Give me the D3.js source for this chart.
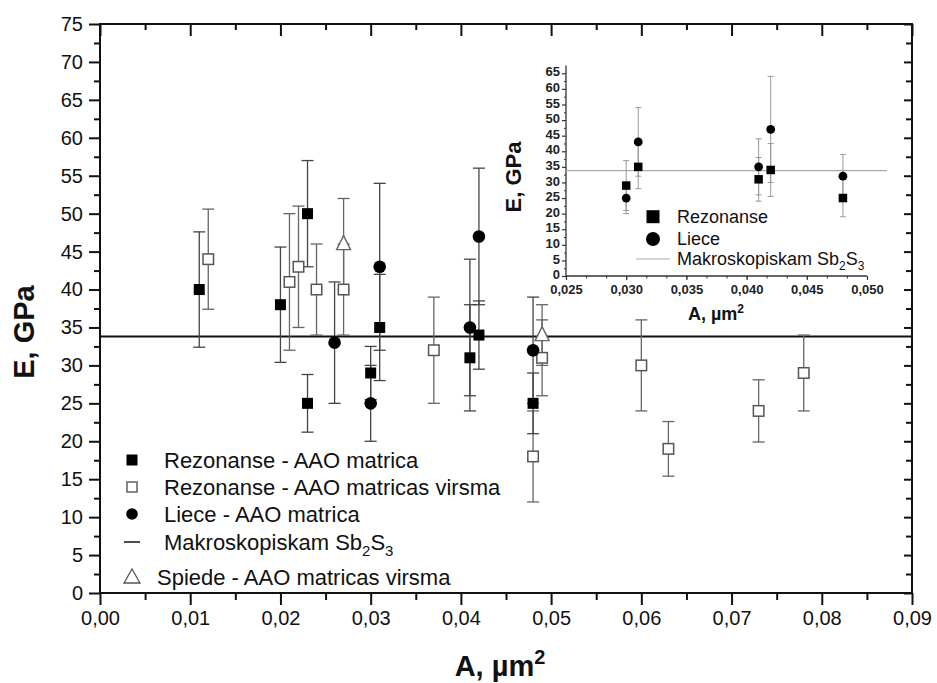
<!DOCTYPE html>
<html><head><meta charset="utf-8">
<script src="https://cdn.jsdelivr.net/npm/d3@7"></script>
<style>body{margin:0;background:#fff}svg{display:block}text{font-family:"Liberation Sans",Arial,sans-serif}</style>
</head><body>
<script>
// ---------- data (main chart) ----------
const rezMatX   = [0.011, 0.020, 0.023, 0.023, 0.030, 0.031, 0.041, 0.042, 0.048];
const rezMatY   = [40, 38, 50, 25, 29, 35, 31, 34, 25];
const rezMatErr = [7.6, 7.6, 7, 3.8, 3.5, 7, 7, 4.5, 4];

const rezSurfX   = [0.012, 0.021, 0.022, 0.024, 0.027, 0.037, 0.048, 0.049, 0.060, 0.063, 0.073, 0.078];
const rezSurfY   = [44, 41, 43, 40, 40, 32, 18, 31, 30, 19, 24, 29];
const rezSurfErr = [6.6, 9, 8, 6, 6, 7, 6, 5, 6, 3.6, 4.1, 5];

const lieX   = [0.026, 0.030, 0.031, 0.041, 0.042, 0.048];
const lieY   = [33, 25, 43, 35, 47, 32];
const lieErr = [8, 5, 11, 9, 9, 7];

const spiX   = [0.027, 0.049];
const spiY   = [46, 34];
const spiErr = [6, 4];

const macroE = 33.8;

const xTicks = [0, 0.01, 0.02, 0.03, 0.04, 0.05, 0.06, 0.07, 0.08, 0.09];
const yTicks = [0, 5, 10, 15, 20, 25, 30, 35, 40, 45, 50, 55, 60, 65, 70, 75];

// ---------- data (inset) ----------
const inRezX   = [0.030, 0.031, 0.041, 0.042, 0.048];
const inRezY   = [29, 35, 31, 34, 25];
const inRezErr = [8, 7, 7, 8.5, 6];
const inLieX   = [0.030, 0.031, 0.041, 0.042, 0.048];
const inLieY   = [25, 43, 35, 47, 32];
const inLieErr = [5, 11, 9, 17, 7];
const inXTicks = [0.025, 0.030, 0.035, 0.040, 0.045, 0.050];
const inYTicks = [0, 5, 10, 15, 20, 25, 30, 35, 40, 45, 50, 55, 60, 65];

const W = 937, H = 683;
const svg = d3.select("body").append("svg").attr("width", W).attr("height", H);

const x = d3.scaleLinear().domain([0, 0.09]).range([100, 912]);
const y = d3.scaleLinear().domain([0, 75]).range([593, 24]);
const comma = f => v => d3.format(f)(v).replace(".", ",");

// minor ticks
const xMinor = d3.range(0.005, 0.09, 0.01);
const yMinor = d3.range(2.5, 75, 5);

function styleAxis(g, w) {
  g.select(".domain").remove();
  g.selectAll(".tick line").attr("stroke", "#111").attr("stroke-width", w);
}

// bottom
svg.append("g").attr("transform", "translate(0,593)")
  .call(d3.axisBottom(x).tickValues(xTicks).tickSize(12).tickPadding(6).tickFormat(comma(".2f")))
  .call(g => { styleAxis(g, 2); g.selectAll("text").attr("font-size", 20).attr("fill", "#111"); });
svg.append("g").attr("transform", "translate(0,593)")
  .call(d3.axisBottom(x).tickValues(xMinor).tickSize(7).tickFormat(""))
  .call(g => styleAxis(g, 2));
// top
svg.append("g").attr("transform", "translate(0,24)")
  .call(d3.axisTop(x).tickValues(xTicks).tickSize(-12).tickFormat(""))
  .call(g => styleAxis(g, 2));
svg.append("g").attr("transform", "translate(0,24)")
  .call(d3.axisTop(x).tickValues(xMinor).tickSize(-6).tickFormat(""))
  .call(g => styleAxis(g, 2));
// left
svg.append("g").attr("transform", "translate(100,0)")
  .call(d3.axisLeft(y).tickValues(yTicks).tickSize(11).tickPadding(6).tickFormat(d3.format("d")))
  .call(g => { styleAxis(g, 2); g.selectAll("text").attr("font-size", 20).attr("fill", "#111"); });
svg.append("g").attr("transform", "translate(100,0)")
  .call(d3.axisLeft(y).tickValues(yMinor).tickSize(6).tickFormat(""))
  .call(g => styleAxis(g, 2));
// right
svg.append("g").attr("transform", "translate(912,0)")
  .call(d3.axisRight(y).tickValues(yTicks).tickSize(-8).tickFormat(""))
  .call(g => styleAxis(g, 2));
svg.append("g").attr("transform", "translate(912,0)")
  .call(d3.axisRight(y).tickValues(yMinor).tickSize(-6).tickFormat(""))
  .call(g => styleAxis(g, 2));

// frame
svg.append("rect").attr("x", x(0)).attr("y", y(75))
  .attr("width", x(0.09) - x(0)).attr("height", y(0) - y(75))
  .attr("fill", "none").attr("stroke", "#111").attr("stroke-width", 2);

// axis titles
svg.append("text").attr("transform", "translate(34,332) rotate(-90)")
  .attr("text-anchor", "middle").attr("font-size", 29).attr("font-weight", "bold").attr("fill", "#111")
  .text("E, GPa");
const xt = svg.append("text").attr("x", 500).attr("y", 676).attr("text-anchor", "middle")
  .attr("font-size", 29).attr("font-weight", "bold").attr("fill", "#111");
xt.append("tspan").text("A, \u00b5m");
xt.append("tspan").attr("font-size", 20).attr("dy", -12).text("2");

// macroscopic line
svg.append("line").attr("x1", x(0)).attr("x2", x(0.09)).attr("y1", y(macroE)).attr("y2", y(macroE))
  .attr("stroke", "#111").attr("stroke-width", 2);

// helpers
function errorBars(g, xs, ys, es, sx, sy, cap, color, w) {
  xs.forEach((xv, i) => {
    const cx = sx(xv), top = sy(ys[i] + es[i]), bot = sy(ys[i] - es[i]);
    g.append("line").attr("x1", cx).attr("x2", cx).attr("y1", top).attr("y2", bot).attr("stroke", color).attr("stroke-width", w);
    [top, bot].forEach(yy => g.append("line").attr("x1", cx - cap).attr("x2", cx + cap)
      .attr("y1", yy).attr("y2", yy).attr("stroke", color).attr("stroke-width", w));
  });
}
function squares(g, xs, ys, sx, sy, s, fill, stroke, sw) {
  xs.forEach((xv, i) => g.append("rect").attr("x", sx(xv) - s / 2).attr("y", sy(ys[i]) - s / 2)
    .attr("width", s).attr("height", s).attr("fill", fill).attr("stroke", stroke).attr("stroke-width", sw));
}
function circles(g, xs, ys, sx, sy, r, fill) {
  xs.forEach((xv, i) => g.append("circle").attr("cx", sx(xv)).attr("cy", sy(ys[i])).attr("r", r).attr("fill", fill));
}
function triangles(g, xs, ys, sx, sy, s) {
  xs.forEach((xv, i) => {
    const cx = sx(xv), cy = sy(ys[i]);
    g.append("path").attr("d", `M${cx},${cy - s * 0.6}L${cx + s / 2},${cy + s * 0.4}L${cx - s / 2},${cy + s * 0.4}Z`)
      .attr("fill", "#fff").attr("stroke", "#666").attr("stroke-width", 1.4);
  });
}

const gm = svg.append("g");
errorBars(gm, rezSurfX, rezSurfY, rezSurfErr, x, y, 6, "#666", 1.3);
errorBars(gm, spiX, spiY, spiErr, x, y, 6, "#666", 1.3);
errorBars(gm, rezMatX, rezMatY, rezMatErr, x, y, 6, "#444", 1.3);
errorBars(gm, lieX, lieY, lieErr, x, y, 6, "#444", 1.3);
squares(gm, rezSurfX, rezSurfY, x, y, 10.5, "#fff", "#555", 1.5);
triangles(gm, spiX, spiY, x, y, 14);
squares(gm, rezMatX, rezMatY, x, y, 11, "#000", "none", 0);
circles(gm, lieX, lieY, x, y, 6.3, "#000");

// main legend
const lg = svg.append("g");
const lgX = 132, lgT = 164, lgFs = 22;
const rows = [460, 487, 514, 542, 577];
lg.append("rect").attr("x", lgX - 5.5).attr("y", rows[0] - 5.5).attr("width", 11).attr("height", 11).attr("fill", "#000");
lg.append("rect").attr("x", lgX - 5).attr("y", rows[1] - 5).attr("width", 10).attr("height", 10).attr("fill", "#fff").attr("stroke", "#555").attr("stroke-width", 1.4);
lg.append("circle").attr("cx", lgX).attr("cy", rows[2]).attr("r", 5.8).attr("fill", "#000");
lg.append("line").attr("x1", lgX - 8).attr("x2", lgX + 8).attr("y1", rows[3]).attr("y2", rows[3]).attr("stroke", "#111").attr("stroke-width", 1.5);
lg.append("path").attr("d", `M${lgX},${rows[4] - 8}L${lgX + 8},${rows[4] + 6}L${lgX - 8},${rows[4] + 6}Z`)
  .attr("fill", "#fff").attr("stroke", "#555").attr("stroke-width", 1.3);
const labels = ["Rezonanse - AAO matrica", "Rezonanse - AAO matricas virsma", "Liece - AAO matrica"];
labels.forEach((t, i) => lg.append("text").attr("x", lgT).attr("y", rows[i] + 8).attr("font-size", lgFs).attr("fill", "#111").text(t));
const mk = lg.append("text").attr("x", lgT).attr("y", rows[3] + 8).attr("font-size", lgFs).attr("fill", "#111");
mk.append("tspan").text("Makroskopiskam Sb");
mk.append("tspan").attr("font-size", 15).attr("dy", 6).text("2");
mk.append("tspan").attr("dy", -6).text("S");
mk.append("tspan").attr("font-size", 15).attr("dy", 6).text("3");
lg.append("text").attr("x", 157).attr("y", rows[4] + 8).attr("font-size", lgFs).attr("fill", "#111").text("Spiede - AAO matricas virsma");

// ---------- inset ----------
const ix = d3.scaleLinear().domain([0.025, 0.050]).range([566, 867]);
const iy = d3.scaleLinear().domain([0, 67.5]).range([276, 65.5]);
const ig = svg.append("g");
const ixMinor = d3.range(0.025, 0.0505, 0.005 / 3);
const iyMinor = d3.range(2.5, 67.5, 5);

ig.append("g").attr("transform", "translate(0,276)")
  .call(d3.axisBottom(ix).tickValues(inXTicks).tickSize(4).tickPadding(5).tickFormat(comma(".3f")))
  .call(g => { g.select(".domain").remove(); g.selectAll(".tick line").attr("stroke", "#333").attr("stroke-width", 1.2);
    g.selectAll("text").attr("font-size", 13).attr("font-weight", "bold").attr("fill", "#222"); });
ig.append("g").attr("transform", "translate(0,276)")
  .call(d3.axisBottom(ix).tickValues(ixMinor).tickSize(2.5).tickFormat(""))
  .call(g => { g.select(".domain").remove(); g.selectAll(".tick line").attr("stroke", "#333").attr("stroke-width", 1); });
ig.append("g").attr("transform", "translate(566,0)")
  .call(d3.axisLeft(iy).tickValues(inYTicks).tickSize(4).tickPadding(2).tickFormat(d3.format("d")))
  .call(g => { g.select(".domain").remove(); g.selectAll(".tick line").attr("stroke", "#333").attr("stroke-width", 1.2);
    g.selectAll("text").attr("font-size", 13).attr("font-weight", "bold").attr("fill", "#222").attr("dy", "0.2em"); });
ig.append("g").attr("transform", "translate(566,0)")
  .call(d3.axisLeft(iy).tickValues(iyMinor).tickSize(2).tickFormat(""))
  .call(g => { g.select(".domain").remove(); g.selectAll(".tick line").attr("stroke", "#333").attr("stroke-width", 1); });
ig.append("line").attr("x1", 566).attr("x2", 566).attr("y1", iy(67.5)).attr("y2", 276).attr("stroke", "#333").attr("stroke-width", 1.3);
ig.append("line").attr("x1", 566).attr("x2", 867).attr("y1", 276).attr("y2", 276).attr("stroke", "#333").attr("stroke-width", 1.3);

ig.append("line").attr("x1", 566).attr("x2", 887).attr("y1", iy(macroE)).attr("y2", iy(macroE))
  .attr("stroke", "#aaa").attr("stroke-width", 1.2);

errorBars(ig, inRezX, inRezY, inRezErr, ix, iy, 3, "#999", 1);
errorBars(ig, inLieX, inLieY, inLieErr, ix, iy, 3, "#999", 1);
squares(ig, inRezX, inRezY, ix, iy, 8.5, "#000", "none", 0);
circles(ig, inLieX, inLieY, ix, iy, 4.4, "#000");

ig.append("text").attr("transform", "translate(521,177) rotate(-90)").attr("text-anchor", "middle")
  .attr("font-size", 22).attr("font-weight", "bold").attr("fill", "#111").text("E, GPa");
const ixt = ig.append("text").attr("x", 716).attr("y", 320).attr("text-anchor", "middle")
  .attr("font-size", 18).attr("font-weight", "bold").attr("fill", "#111");
ixt.append("tspan").text("A, \u00b5m");
ixt.append("tspan").attr("font-size", 12).attr("dy", -7).text("2");

// inset legend
ig.append("rect").attr("x", 653 - 6.5).attr("y", 216.7 - 6.5).attr("width", 13).attr("height", 13).attr("fill", "#000");
ig.append("circle").attr("cx", 653).attr("cy", 239).attr("r", 7).attr("fill", "#000");
ig.append("line").attr("x1", 636).attr("x2", 670).attr("y1", 259).attr("y2", 259).attr("stroke", "#aaa").attr("stroke-width", 1.2);
ig.append("text").attr("x", 677).attr("y", 223).attr("font-size", 18).attr("fill", "#111").text("Rezonanse");
ig.append("text").attr("x", 677).attr("y", 245).attr("font-size", 18).attr("fill", "#111").text("Liece");
const imk = ig.append("text").attr("x", 677).attr("y", 265).attr("font-size", 18).attr("fill", "#111");
imk.append("tspan").text("Makroskopiskam Sb");
imk.append("tspan").attr("font-size", 12).attr("dy", 5).text("2");
imk.append("tspan").attr("dy", -5).text("S");
imk.append("tspan").attr("font-size", 12).attr("dy", 5).text("3");
</script>
</body></html>
